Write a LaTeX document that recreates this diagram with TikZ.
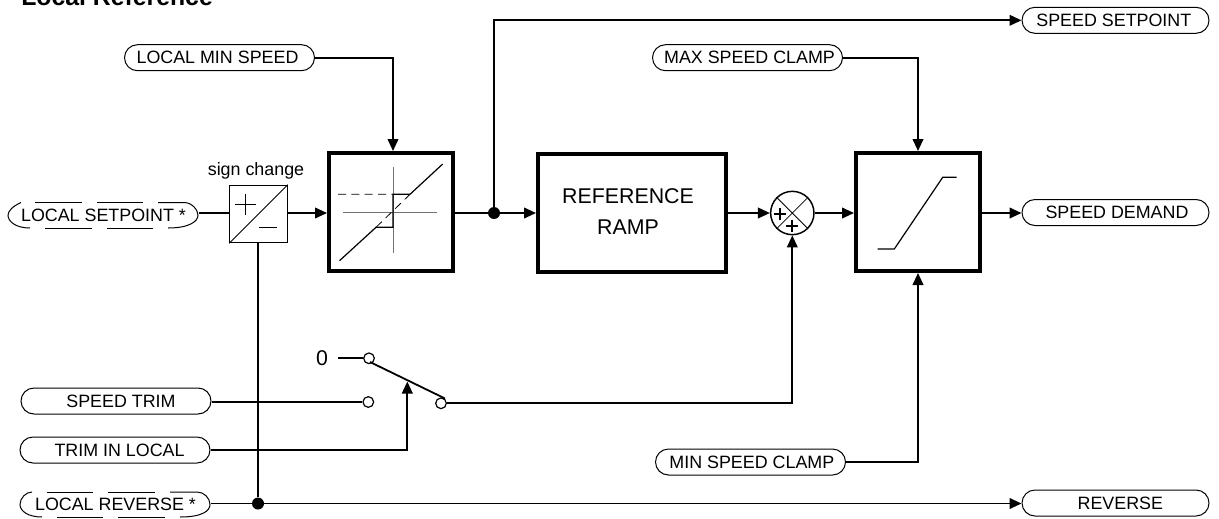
\documentclass[tikz,border=0pt]{standalone}
\usepackage{fontspec}
\setmainfont{Liberation Sans}
\usetikzlibrary{arrows.meta,shapes.misc}
\tikzset{
  x=0.75pt,y=-0.75pt,
  wire/.style={line width=1.35pt},
  flow/.style={wire,-{Triangle[length=9pt,width=8pt]}},
  pill/.style={rounded rectangle,draw,line width=0.75pt,minimum width=142.5pt,minimum height=19.5pt,inner sep=0pt,font=\fontsize{13.4pt}{15pt}\selectfont},
  ghost/.style={pill,draw=none},
  thin line/.style={line width=0.75pt},
  blockbox/.style={draw,line width=2.7pt,inner sep=0pt,font=\fontsize{16pt}{23pt}\selectfont,align=center},
  gray line/.style={line width=0.75pt,draw=black!55},
  term/.style={circle,draw,line width=0.9pt,fill=white,minimum size=8pt,inner sep=0pt},
  dotn/.style={circle,fill=black,minimum size=9pt,inner sep=0pt},
  txt/.style={inner sep=0pt,font=\fontsize{13.4pt}{15pt}\selectfont}
}
\begin{document}
\begin{tikzpicture}
\useasboundingbox (0,0) rectangle (1219,518);
\coordinate (row) at (0,213);
\node[anchor=base west,inner sep=0pt,font=\bfseries\fontsize{18.6pt}{20pt}\selectfont] (title) at (21,5) {Local Reference};
% terminals
\node[ghost] (lsp) at (103.5,215.2) {LOCAL SETPOINT *};
\node[ghost] (lrv) at (115.5,504.5) {LOCAL REVERSE *};
\node[pill] (lmin) at (219.5,57.7) {LOCAL MIN SPEED\kern3pt};
\node[pill] (st) at (116,401) {\kern7.5pt SPEED TRIM};
\node[pill] (til) at (115,450) {\kern6.8pt TRIM IN LOCAL};
\node[pill] (maxc) at (747.5,57.7) {\kern3pt MAX SPEED CLAMP};
\node[pill] (minc) at (750.5,462) {\kern2pt MIN SPEED CLAMP};
\node[pill,minimum width=140.25pt] (ssp) at (1115.5,20.3) {SPEED SETPOINT\kern2.5pt};
\node[pill,minimum width=140.25pt] (sd) at (1115.5,212.5) {\kern2.2pt SPEED DEMAND};
\node[pill,minimum width=140.25pt] (rev) at (1115.5,503) {\kern7.2pt REVERSE};
% dashed outlines
\begin{scope}[thin line]
\draw (21,202.5) .. controls (13,206) and (8,211) .. (8,215.2) .. controls (8,221) and (15,228) .. (30,228);
\draw (35,202.5)--(82,202.5) (97,202.5)--(143,202.5);
\draw (45,228)--(92,228) (107,228)--(153,228);
\draw (158,202.5)--(184,202.5) .. controls (192,202.5) and (198,210) .. (198,215.2) .. controls (198,221) and (190,228) .. (168,228);
\draw (32,492) .. controls (26,492) and (20,498) .. (20,504.5) .. controls (20,511) and (28,517) .. (42,517);
\draw (47,492)--(93,492) (108,492)--(155,492);
\draw (57,517)--(103,517) (118,517)--(165,517);
\draw (170,492)--(197,492) .. controls (204,492) and (210,498) .. (210,504.5) .. controls (210,511) and (202,517) .. (180,517);
\end{scope}
% blocks
\node[draw,line width=0.9pt,minimum size=43pt,inner sep=0pt] (sgn) at (258.5,214) {};
\node[txt,anchor=south] (sc) at (256,179) {sign change};
\draw[thin line] (sgn.south west)--(sgn.north east);
\draw[line width=1.1pt] (234.5,204.3)--(256,204.3) (245.3,193.5)--(245.3,215) (258.5,227.5)--(276.5,227.5);
\node[blockbox,minimum width=93.3pt,minimum height=88.8pt] (dz) at (391,212) {};
\node[blockbox,minimum width=141.3pt,minimum height=88.8pt] (ramp) at (632,213) {};
\node[blockbox,draw=none] (ramptxt) at (628,211.5) {REFERENCE\\RAMP};
\node[blockbox,minimum width=93.3pt,minimum height=88.8pt] (lim) at (918,212) {};
\node[circle,draw,line width=1.1pt,minimum size=32.5pt,inner sep=0pt] (sum) at (792.3,213) {};
% deadband icon
\draw[gray line] (393,167)--(393,253) (343,212)--(437,212);
\draw[line width=0.9pt] (339.5,260.7)--(376,227.3)--(393,227.3)--(393,194.3)--(410,194.3)--(442.7,164);
\draw[line width=0.6pt,dash pattern=on 6pt off 4pt] (338,194.3)--(393,194.3) (376,227.3)--(410,194.3);
% limiter icon
\draw[line width=0.9pt] (877.7,249)--(894.3,249)--(942.7,177.3)--(956.7,177.3);
% sum
\draw[line width=0.6pt] (sum.north west)--(sum.south east) (sum.north east)--(sum.south west);
\draw[line width=1.3pt] (774,214)--(786,214) (780,208)--(780,220) (786,225.7)--(798,225.7) (792,219.7)--(792,231.7);
% switch
\node[txt,font=\fontsize{16pt}{18pt}\selectfont] (zero) at (322,358) {0};
\node[term] (t0) at (369,358.3) {};
\node[term] (t1) at (368.3,402) {};
\node[term] (t2) at (441,403.3) {};
\draw[wire] (338,358.3)--(t0);
\draw[wire] (370,362)--(445,398.5);
% junctions
\node[dotn] (j1) at (494,213) {};
\node[dotn] (j2) at (258,503.5) {};
% connectors
\draw[wire] (lsp.east |- row)--(sgn.west |- row);
\draw[flow] (sgn.east |- row)--(dz.west |- row);
\draw[flow] (lmin.east) -| ([xshift=1.5pt]dz.north);
\draw[flow] (dz.east |- row)--(ramp.west |- row);
\draw[flow] (j1.center) |- (ssp.west);
\draw[flow] (ramp.east |- row)--(sum.west);
\draw[flow] (sum.east)--(lim.west |- row);
\draw[flow] (maxc.east) -| (lim.north);
\draw[flow] (minc.east) -| (lim.south);
\draw[flow] (lim.east |- row)--(sd.west |- row);
\draw[wire] (sgn.south -| j2)--(j2);
\draw[flow] (lrv.east |- j2)--(rev.west |- j2);
\draw[wire] (st.east |- t1)--(t1);
\coordinate (lever) at (407.3,381.5);
\draw[flow] (til.east) -| (lever);
\draw[flow] (t2) -| (sum.south);
\end{tikzpicture}
\end{document}
